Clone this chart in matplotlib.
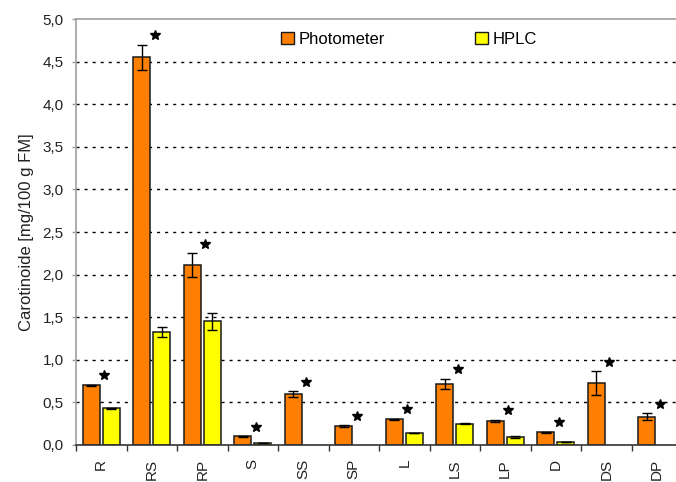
import numpy as np
import matplotlib
matplotlib.use("Agg")
import matplotlib.pyplot as plt
from matplotlib.patches import Patch
from matplotlib.ticker import FixedLocator, FuncFormatter

plt.rcParams["font.family"] = ["Liberation Sans", "DejaVu Sans"]

# Carotenoid content per sample, mean and standard deviation
categories = ["R", "RS", "RP", "S", "SS", "SP", "L", "LS", "LP", "D", "DS", "DP"]
photometer = [0.70, 4.55, 2.11, 0.10, 0.60, 0.22, 0.30, 0.72, 0.28, 0.15, 0.73, 0.33]
photometer_err = [0.01, 0.15, 0.14, 0.005, 0.035, 0.01, 0.01, 0.06, 0.015, 0.005, 0.14, 0.04]
hplc = [0.43, 1.33, 1.45, 0.02, np.nan, np.nan, 0.14, 0.25, 0.09, 0.03, np.nan, np.nan]
hplc_err = [0.005, 0.06, 0.10, 0.0, np.nan, np.nan, 0.005, 0.005, 0.01, 0.0, np.nan, np.nan]
significant = [True] * 12
y_ticks = [0.0, 0.5, 1.0, 1.5, 2.0, 2.5, 3.0, 3.5, 4.0, 4.5, 5.0]

fig = plt.figure(figsize=(6.76, 4.82), dpi=100)
ax = fig.add_axes([76 / 676, 37 / 482, 606 / 676, 426 / 482])

x = np.arange(len(categories))
width = 0.337
offset = 0.198
edge = "#1a1a1a"

# dotted horizontal grid
for yv in y_ticks[1:-1]:
    ax.axhline(yv, color="black", lw=1.0, linestyle=(0, (2.2, 3.6)), zorder=0)

err_kw = dict(ecolor="black", elinewidth=1.0, capsize=3.6, capthick=1.0)
ax.bar(x - offset, photometer, width, yerr=photometer_err, color="#FF7F00",
       edgecolor=edge, linewidth=1.1, error_kw=err_kw, zorder=2, label="Photometer")
ax.bar(x + offset, hplc, width, yerr=hplc_err, color="#FFFF00",
       edgecolor=edge, linewidth=1.1, error_kw=err_kw, zorder=2, label="HPLC")

# significance markers above the photometer bars
for xi, v, e, s in zip(x, photometer, photometer_err, significant):
    if s:
        ax.plot(xi + 0.06, v + e + 0.11, marker="*", color="black",
                markersize=7.5, linestyle="none", zorder=3)

ax.set_xlim(-0.5, len(categories) - 0.5)
ax.set_ylim(0, 5)

ax.yaxis.set_major_locator(FixedLocator(y_ticks))
ax.yaxis.set_major_formatter(FuncFormatter(lambda v, p: f"{v:.1f}".replace(".", ",")))
ax.tick_params(axis="y", length=3, width=1.0, color="#999999", pad=6, labelsize=11,
               labelcolor="#222222")

ax.set_xticks(np.arange(-0.5, len(categories), 1.0))
ax.set_xticklabels([])
ax.set_xticks(x, minor=True)
ax.set_xticklabels(categories, minor=True, rotation=90, fontsize=11, color="#222222")
ax.tick_params(axis="x", which="major", length=4, width=1.0, color="#333333")
ax.tick_params(axis="x", which="minor", length=0, pad=10)

for side in ("left", "top", "right"):
    ax.spines[side].set_color("#a0a0a0")
    ax.spines[side].set_linewidth(1.2)
ax.spines["bottom"].set_color("#333333")
ax.spines["bottom"].set_linewidth(1.2)

ax.set_ylabel("Carotinoide [mg/100 g FM]", fontsize=12, labelpad=6, color="#222222")

handles = [Patch(facecolor="#FF7F00", edgecolor=edge, linewidth=1.0),
           Patch(facecolor="#FFFF00", edgecolor=edge, linewidth=1.0)]
ax.legend(handles, ["Photometer", "HPLC"], loc="center left",
          bbox_to_anchor=(0.325, 0.953), ncol=2, frameon=False, fontsize=12,
          handlelength=0.75, handleheight=0.75, handletextpad=0.3,
          columnspacing=5.4, borderpad=0)

fig.savefig("out.png", dpi=100)
